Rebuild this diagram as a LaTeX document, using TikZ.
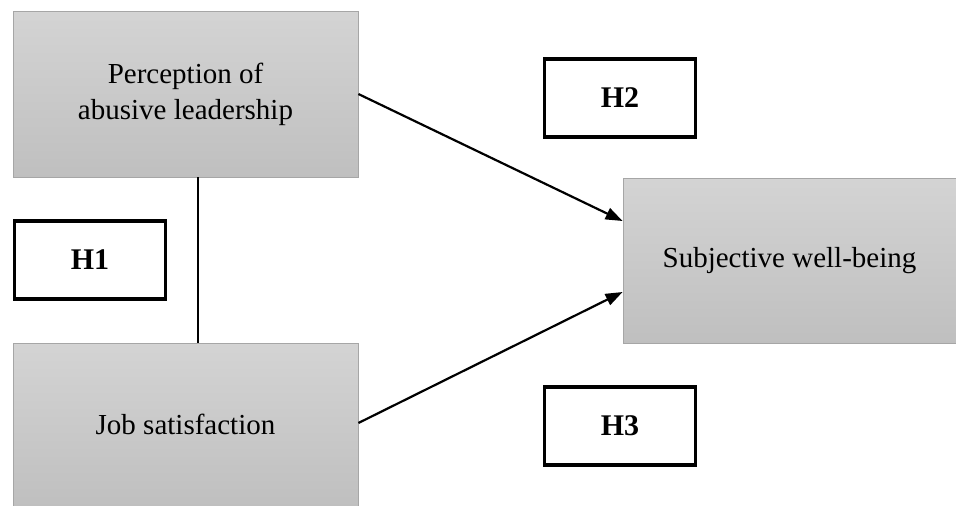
\documentclass[tikz,border=0pt]{standalone}
\usepackage{fontspec}
\setmainfont{Liberation Serif}
\usetikzlibrary{arrows.meta,calc}
\begin{document}
\begin{tikzpicture}[x=1pt,y=-1pt,
  varbox/.style={draw=black!35, line width=0.8pt, top color=black!17, bottom color=black!25,
    minimum width=#1, inner sep=0pt, align=center, font=\fontsize{29}{33}\selectfont},
  hbox/.style={draw=black, line width=3.2pt, fill=white, minimum width=151pt, minimum height=78pt,
    inner sep=0pt, font=\fontsize{30}{34}\bfseries},
  conn/.style={line width=2.2pt},
  arr/.style={conn, -{Triangle[length=17pt,width=12pt]}}]
\useasboundingbox (0,0) rectangle (956,506);
\node[varbox=345pt, minimum height=166pt, text depth=6pt] (pal) at (185.5,94) {Perception of\\[3pt]abusive leadership};
\node[varbox=345pt, minimum height=163pt] (js) at (185.5,424.5) {Job satisfaction};
\node[varbox=333pt, minimum height=165pt] (swb) at (789.5,260.5) {Subjective well-being};
\node[hbox] (h1) at (90,260) {H1};
\node[hbox] (h2) at (620,98) {H2};
\node[hbox] (h3) at (620,426) {H3};
\coordinate (vx) at (198,0);
\draw[conn] (pal.south -| vx) -- (js.north -| vx);
\draw[arr] (pal.east) -- ($(swb.west)+(0,-39.5)$);
\draw[arr] ($(js.east)+(0,-1.5)$) -- ($(swb.west)+(0,31.5)$);
\end{tikzpicture}
\end{document}
